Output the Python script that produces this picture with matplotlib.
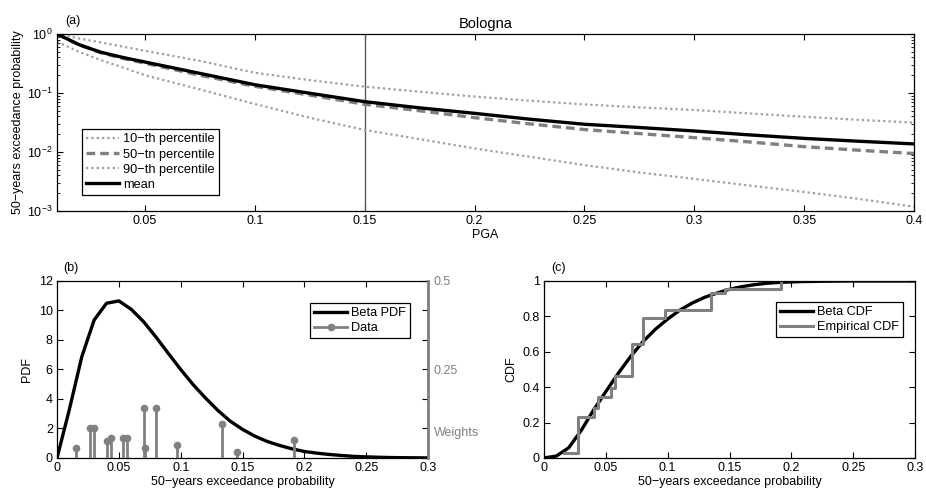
import matplotlib
matplotlib.use('Agg')
import matplotlib.pyplot as plt
from matplotlib.legend_handler import HandlerLine2D
from matplotlib.lines import Line2D
from matplotlib.ticker import FormatStrFormatter
import numpy as np

plt.rcParams['font.family'] = ['Liberation Sans', 'DejaVu Sans']
plt.rcParams['font.size'] = 9
plt.rcParams['axes.linewidth'] = 0.9

# (a) hazard curves
pga = [0.01, 0.02, 0.03, 0.04, 0.05, 0.075, 0.1, 0.125, 0.15, 0.175, 0.2,
       0.225, 0.25, 0.275, 0.3, 0.325, 0.35, 0.375, 0.4]
p10 = [0.74, 0.5, 0.36, 0.27, 0.2, 0.115, 0.065, 0.038, 0.0236, 0.0165, 0.0115,
       0.0083, 0.006, 0.0045, 0.0035, 0.0027, 0.0021, 0.0016, 0.00118]
p50 = [1.0, 0.65, 0.48, 0.385, 0.32, 0.2, 0.13, 0.092, 0.0644, 0.05, 0.0382,
       0.03, 0.024, 0.0205, 0.0175, 0.0148, 0.0123, 0.0107, 0.0094]
p90 = [1.0, 0.84, 0.72, 0.61, 0.52, 0.35, 0.22, 0.165, 0.128, 0.105, 0.087,
       0.074, 0.064, 0.057, 0.0515, 0.045, 0.0396, 0.035, 0.0315]
mean_haz = [1.0, 0.66, 0.49, 0.40, 0.335, 0.215, 0.138, 0.099, 0.0713, 0.056, 0.0452,
            0.036, 0.0295, 0.026, 0.0227, 0.0195, 0.017, 0.0152, 0.0137]
pga_ref = 0.15

# (b), (c) distribution at PGA = 0.15
prob_grid = np.linspace(0, 0.3, 31)
beta_pdf = [0, 3.3, 6.86, 9.35, 10.49, 10.65, 10.08, 9.24, 8.2, 7.09, 6.0,
            4.98, 4.07, 3.23, 2.5, 1.94, 1.48, 1.12, 0.85, 0.62, 0.44,
            0.33, 0.24, 0.17, 0.11, 0.075, 0.05, 0.03, 0.02, 0.012, 0.007]
beta_cdf = [0, 0.011, 0.058, 0.155, 0.27, 0.375, 0.478, 0.573, 0.657, 0.727, 0.785,
            0.836, 0.876, 0.908, 0.932, 0.953, 0.968, 0.979, 0.987, 0.992, 0.995,
            0.997, 0.998, 0.999, 0.9995, 1.0, 1.0, 1.0, 1.0, 1.0, 1.0]
data_x = [0.0154, 0.0267, 0.0302, 0.0404, 0.0437, 0.0531, 0.0566, 0.0704, 0.0714,
          0.0798, 0.0973, 0.1337, 0.1456, 0.1914]
data_w = [0.0275, 0.085, 0.085, 0.048, 0.057, 0.057, 0.057, 0.1425, 0.0275,
          0.1425, 0.036, 0.095, 0.018, 0.05]
ecdf_x = [0.0162, 0.0272, 0.0404, 0.044, 0.054, 0.057, 0.071, 0.080, 0.098,
          0.135, 0.146, 0.192]
ecdf_y = [0.030, 0.230, 0.281, 0.343, 0.397, 0.463, 0.644, 0.793, 0.834,
          0.930, 0.953, 1.0]

GRAY = '0.5'
LGRAY = '0.62'
MINUS = '\u2212'


class StemHandler(HandlerLine2D):
    # marker at the right end of the legend line, like a stem legend
    def get_xdata(self, legend, xdescent, ydescent, width, height, fontsize):
        return [-xdescent, -xdescent + width], [-xdescent + width]


def box_ticks(ax):
    ax.tick_params(direction='in', top=True, right=True, length=4, width=0.8, pad=3)
    ax.tick_params(which='minor', direction='in', top=True, right=True, length=2, width=0.6)


def legend_box(ax, handles, labels, loc, anchor, **kw):
    leg = ax.legend(handles, labels, loc=loc, bbox_to_anchor=anchor, borderaxespad=0,
                    fancybox=False, framealpha=1, edgecolor='black', fontsize=9.2,
                    handlelength=2.6, handletextpad=0.3, labelspacing=0.25,
                    borderpad=0.32, **kw)
    leg.get_frame().set_linewidth(0.9)
    return leg


fig = plt.figure(figsize=(9.26, 4.94), dpi=100)

# ---- (a)
ax = fig.add_axes([0.0616, 0.5729, 0.9255, 0.3583])
ax.set_yscale('log')
ax.axvline(pga_ref, color='0.35', lw=1.0)
dot = (0, (1.0, 1.4))
h10, = ax.plot(pga, p10, color=LGRAY, lw=1.6, ls=dot)
h50, = ax.plot(pga, p50, color=GRAY, lw=2.4, ls=(0, (2.6, 1.5)))
h90, = ax.plot(pga, p90, color=LGRAY, lw=1.6, ls=dot)
hm, = ax.plot(pga, mean_haz, color='black', lw=2.4)
ax.set_xlim(0.01, 0.4)
ax.set_ylim(1e-3, 1)
ax.set_xticks([0.05, 0.1, 0.15, 0.2, 0.25, 0.3, 0.35, 0.4])
ax.xaxis.set_major_formatter(FormatStrFormatter('%g'))
box_ticks(ax)
ax.set_xlabel('PGA', labelpad=1)
ax.set_ylabel('50' + MINUS + 'years exceedance probability', labelpad=2)
ax.set_title('Bologna', fontsize=10.5, pad=4)
ax.text(0.009, 1.04, '(a)', transform=ax.transAxes, ha='left', va='bottom', fontsize=9)
legend_box(ax, [h10, h50, h90, hm],
           ['10' + MINUS + 'th percentile', '50' + MINUS + 'tn percentile',
            '90' + MINUS + 'th percentile', 'mean'],
           'lower left', (0.029, 0.09))

# ---- (b)
axb = fig.add_axes([0.0616, 0.0729, 0.4006, 0.3583])
hp, = axb.plot(prob_grid, beta_pdf, color='black', lw=2.4, zorder=3)
axb.set_xlim(0, 0.3)
axb.set_ylim(0, 12)
axb.set_xticks(np.arange(0, 0.31, 0.05))
axb.set_yticks(range(0, 13, 2))
axb.xaxis.set_major_formatter(FormatStrFormatter('%g'))
axb.set_xlabel('50' + MINUS + 'years exceedance probability', labelpad=1)
axb.set_ylabel('PDF', labelpad=4)
axb.text(0.016, 1.04, '(b)', transform=axb.transAxes, ha='left', va='bottom', fontsize=9)

axw = axb.twinx()
axw.vlines(data_x, 0, data_w, color=GRAY, lw=2.0)
axw.plot(data_x, data_w, 'o', color=GRAY, ms=4.5)
axw.set_ylim(0, 0.5)
axw.set_yticks([0.075, 0.25, 0.5])
axw.set_yticklabels(['Weights', '0.25', '0.5'])
axw.tick_params(axis='y', colors=GRAY, length=0, pad=4)
axw.spines['right'].set_color(GRAY)
axw.spines['right'].set_linewidth(2.0)
for s in ['left', 'top', 'bottom']:
    axw.spines[s].set_visible(False)
box_ticks(axb)
axb.tick_params(axis='y', right=True)
hd = Line2D([], [], color=GRAY, lw=2.0, marker='o', ms=4.5)
legend_box(axw, [hp, hd], ['Beta PDF', 'Data'], 'upper right', (0.9515, 0.876),
           handler_map={hd: StemHandler(numpoints=1)})

# ---- (c)
axc = fig.add_axes([0.5875, 0.0729, 0.4006, 0.3583])
hc, = axc.plot(prob_grid, beta_cdf, color='black', lw=2.4)
he, = axc.step(ecdf_x, ecdf_y, where='post', color=GRAY, lw=2.2)
axc.set_xlim(0, 0.3)
axc.set_ylim(0, 1)
axc.set_xticks(np.arange(0, 0.31, 0.05))
axc.set_yticks(np.arange(0, 1.01, 0.2))
axc.xaxis.set_major_formatter(FormatStrFormatter('%g'))
axc.yaxis.set_major_formatter(FormatStrFormatter('%g'))
box_ticks(axc)
axc.set_xlabel('50' + MINUS + 'years exceedance probability', labelpad=1)
axc.set_ylabel('CDF', labelpad=4)
axc.text(0.02, 1.04, '(c)', transform=axc.transAxes, ha='left', va='bottom', fontsize=9)
legend_box(axc, [hc, he], ['Beta CDF', 'Empirical CDF'], 'upper right', (0.9677, 0.881))

fig.savefig('out.png', dpi=100)
